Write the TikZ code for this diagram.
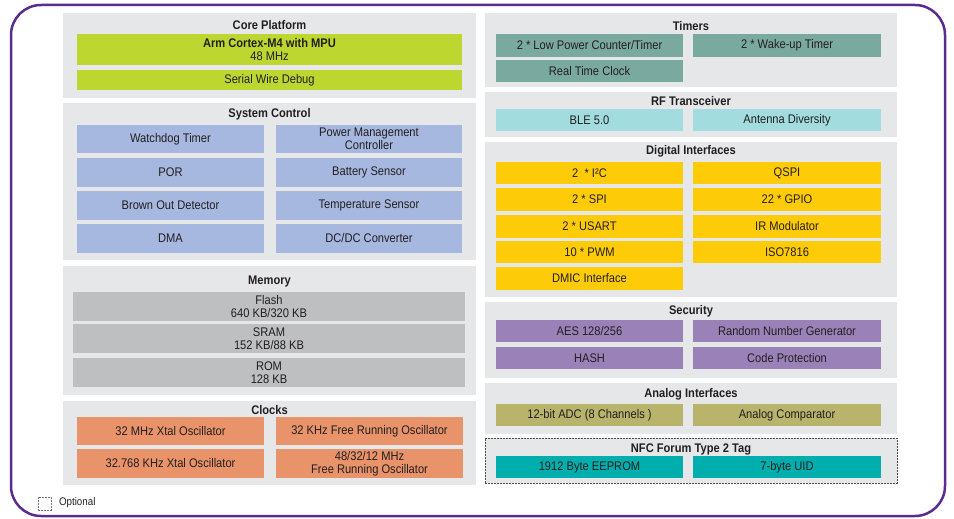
\documentclass[tikz,border=0pt]{standalone}
\usepackage{fontspec}
\setmainfont{Liberation Sans}[FakeStretch=0.89]
\definecolor{panelgray}{HTML}{E6E7E8}
\definecolor{lime}{HTML}{BED630}
\definecolor{sysblue}{HTML}{A6B8DF}
\definecolor{memgray}{HTML}{BEBFC1}
\definecolor{clkorange}{HTML}{E9936A}
\definecolor{timteal}{HTML}{7AA9A0}
\definecolor{rfcyan}{HTML}{A3DCDF}
\definecolor{digyellow}{HTML}{FECB08}
\definecolor{secpurple}{HTML}{9A82B9}
\definecolor{anaolive}{HTML}{B8B46C}
\definecolor{nfcteal}{HTML}{00AEAD}
\definecolor{framepurple}{HTML}{5B2C8F}
\definecolor{txt}{HTML}{231F20}
\newcommand{\mybox}[7]{\node[#1, minimum width={(#5-#3)*1pt}, minimum height={(#6-#4)*1pt}] (#2) at ({(#3+#5)/2},{(#4+#6)/2}) {#7};}
\tikzset{
  base/.style={inner sep=0pt, outer sep=0pt, align=center, text=txt, font=\fontsize{12.5}{13}\selectfont},
  panel/.style={base, fill=panelgray},
  optline/.style={draw=black!70, line width=0.7pt, dash pattern=on 2pt off 1pt},
  nfcpanel/.style={base, fill=panelgray, optline},
  legendbox/.style={base, optline, draw=black!55},
  ptitle/.style={base, font=\bfseries\fontsize{12.5}{13}\selectfont},
  corebox/.style={base, fill=lime},
  sysbox/.style={base, fill=sysblue},
  membox/.style={base, fill=memgray},
  clkbox/.style={base, fill=clkorange},
  timbox/.style={base, fill=timteal},
  rfbox/.style={base, fill=rfcyan},
  digbox/.style={base, fill=digyellow},
  secbox/.style={base, fill=secpurple},
  anabox/.style={base, fill=anaolive},
  nfcbox/.style={base, fill=nfcteal},
}
\begin{document}
\begin{tikzpicture}[x=1pt,y=-1pt]
\useasboundingbox (0,0) rectangle (954,519);
\draw[framepurple, line width=2.5pt, rounded corners=30pt] (11,5) rectangle (945,516);
% panels
\mybox{panel}{pcore}{63}{13}{476}{98}{}
\mybox{panel}{psys}{63}{103}{476}{260}{}
\mybox{panel}{pmem}{63}{266}{476}{395}{}
\mybox{panel}{pclk}{63}{401}{476}{485}{}
\mybox{panel}{ptim}{485}{13}{897}{87}{}
\mybox{panel}{prf}{485}{92}{897}{137}{}
\mybox{panel}{pdig}{485}{142}{897}{297}{}
\mybox{panel}{psec}{485}{302}{897}{378}{}
\mybox{panel}{pana}{485}{383}{897}{434}{}
\mybox{nfcpanel}{pnfc}{485}{438}{897}{483}{}
% titles
\node[ptitle] (tcore) at (269.5,25) {Core Platform};
\node[ptitle] (tsys) at (269.5,114) {System Control};
\node[ptitle] (tmem) at (269.5,281) {Memory};
\node[ptitle] (tclk) at (269.5,410) {Clocks};
\node[ptitle] (ttim) at (691,26) {Timers};
\node[ptitle] (trf) at (691,101) {RF Transceiver};
\node[ptitle] (tdig) at (691,151) {Digital Interfaces};
\node[ptitle] (tsec) at (691,311) {Security};
\node[ptitle] (tana) at (691,394) {Analog Interfaces};
\node[ptitle] (tnfc) at (691,449) {NFC Forum Type 2 Tag};
% core
\mybox{corebox}{arm}{77}{34}{462}{65}{\textbf{Arm Cortex-M4 with MPU}\\48 MHz}
\mybox{corebox}{swd}{77}{70}{462}{90}{Serial Wire Debug}
% system control
\mybox{sysbox}{wdt}{77}{125}{264}{153}{Watchdog Timer}
\mybox{sysbox}{pmc}{276}{125}{462}{153}{Power Management\\Controller}
\mybox{sysbox}{por}{77}{158}{264}{187}{POR}
\mybox{sysbox}{bat}{276}{158}{462}{187}{Battery Sensor}
\mybox{sysbox}{bod}{77}{191}{264}{220}{Brown Out Detector}
\mybox{sysbox}{tmp}{276}{191}{462}{220}{Temperature Sensor}
\mybox{sysbox}{dma}{77}{224}{264}{253}{DMA}
\mybox{sysbox}{dcdc}{276}{224}{462}{253}{DC/DC Converter}
% memory
\mybox{membox}{flash}{73}{292}{465}{321}{Flash\\640 KB/320 KB}
\mybox{membox}{sram}{73}{324}{465}{353}{SRAM\\152 KB/88 KB}
\mybox{membox}{rom}{73}{358}{465}{387}{ROM\\128 KB}
% clocks
\mybox{clkbox}{xo32m}{77}{417}{264}{445}{32 MHz Xtal Oscillator}
\mybox{clkbox}{fro32k}{276}{417}{463}{445}{32 KHz Free Running Oscillator}
\mybox{clkbox}{xo32k}{77}{449}{264}{478}{32.768 KHz Xtal Oscillator}
\mybox{clkbox}{fro48}{276}{449}{463}{478}{48/32/12 MHz\\Free Running Oscillator}
% timers
\mybox{timbox}{lpct}{496}{34}{683}{57}{2 * Low Power Counter/Timer}
\mybox{timbox}{wkt}{693}{34}{881}{57}{2 * Wake-up Timer}
\mybox{timbox}{rtc}{496}{60}{683}{82}{Real Time Clock}
% rf
\mybox{rfbox}{ble}{496}{109}{683}{131}{BLE 5.0}
\mybox{rfbox}{ant}{693}{109}{881}{131}{Antenna Diversity}
% digital
\mybox{digbox}{i2c}{496}{162}{683}{184}{2 \ * I²C}
\mybox{digbox}{qspi}{693}{162}{881}{184}{QSPI}
\mybox{digbox}{spi}{496}{188}{683}{211}{2 * SPI}
\mybox{digbox}{gpio}{693}{188}{881}{211}{22 * GPIO}
\mybox{digbox}{usart}{496}{215}{683}{238}{2 * USART}
\mybox{digbox}{irm}{693}{215}{881}{238}{IR Modulator}
\mybox{digbox}{pwm}{496}{241}{683}{263}{10 * PWM}
\mybox{digbox}{iso}{693}{241}{881}{263}{ISO7816}
\mybox{digbox}{dmic}{496}{267}{683}{290}{DMIC Interface}
% security
\mybox{secbox}{aes}{496}{320}{683}{342}{AES 128/256}
\mybox{secbox}{rng}{693}{320}{881}{342}{Random Number Generator}
\mybox{secbox}{hash}{496}{347}{683}{369}{HASH}
\mybox{secbox}{cprot}{693}{347}{881}{369}{Code Protection}
% analog
\mybox{anabox}{adc}{496}{404}{683}{426}{12-bit ADC (8 Channels )}
\mybox{anabox}{comp}{693}{404}{881}{426}{Analog Comparator}
% nfc
\mybox{nfcbox}{eeprom}{496}{456}{683}{478}{1912 Byte EEPROM}
\mybox{nfcbox}{uid}{693}{456}{881}{478}{7-byte UID}
% legend
\mybox{legendbox}{legbox}{38}{497}{51}{510}{}
\node[base, anchor=west, font=\fontsize{11}{12}\selectfont] (legtxt) at (59,503) {Optional};
\end{tikzpicture}
\end{document}
